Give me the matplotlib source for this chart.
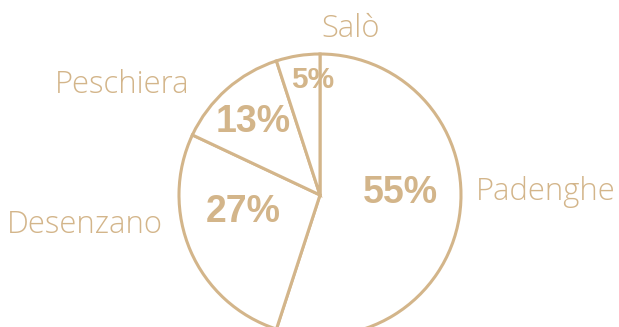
import matplotlib
matplotlib.use("Agg")
import matplotlib.pyplot as plt

# Share of visitors by town
towns = ["Padenghe", "Desenzano", "Peschiera", "Salò"]
shares = [55, 27, 13, 5]

TAN = "#d3b58a"
W, H = 619, 327

fig = plt.figure(figsize=(W / 100, H / 100), dpi=100)
ax = fig.add_axes([0, 0, 1, 1])

cx, cy, r = 320, H - 195, 141

ax.pie(
    shares,
    startangle=90,
    counterclock=False,
    center=(cx, cy),
    radius=r,
    colors=["white"] * len(shares),
    wedgeprops=dict(edgecolor=TAN, linewidth=2.2),
    frame=True,
)
ax.set_xlim(0, W)
ax.set_ylim(0, H)
ax.set_aspect("equal")
ax.axis("off")

# percentage labels inside the slices (pixel positions from the top-left)
pct_pos = [(400, 193), (243, 212), (253, 122), (313, 80)]
pct_size = [27, 27, 27, 21.5]
for v, (px, py), fs in zip(shares, pct_pos, pct_size):
    ax.text(px, H - py, f"{v}%", ha="center", va="center", color=TAN,
            fontsize=fs, fontweight="bold", family="Liberation Sans")

# town names around the pie
name_pos = [(476, 192, "left"), (163, 225, "right"), (190, 85, "right"), (351, 29, "center")]
for name, (px, py, ha) in zip(towns, name_pos):
    ax.text(px, H - py, name, ha=ha, va="center", color=TAN,
            fontsize=22.3, fontweight="light", family="Open Sans")

fig.savefig("out.png", dpi=100)
